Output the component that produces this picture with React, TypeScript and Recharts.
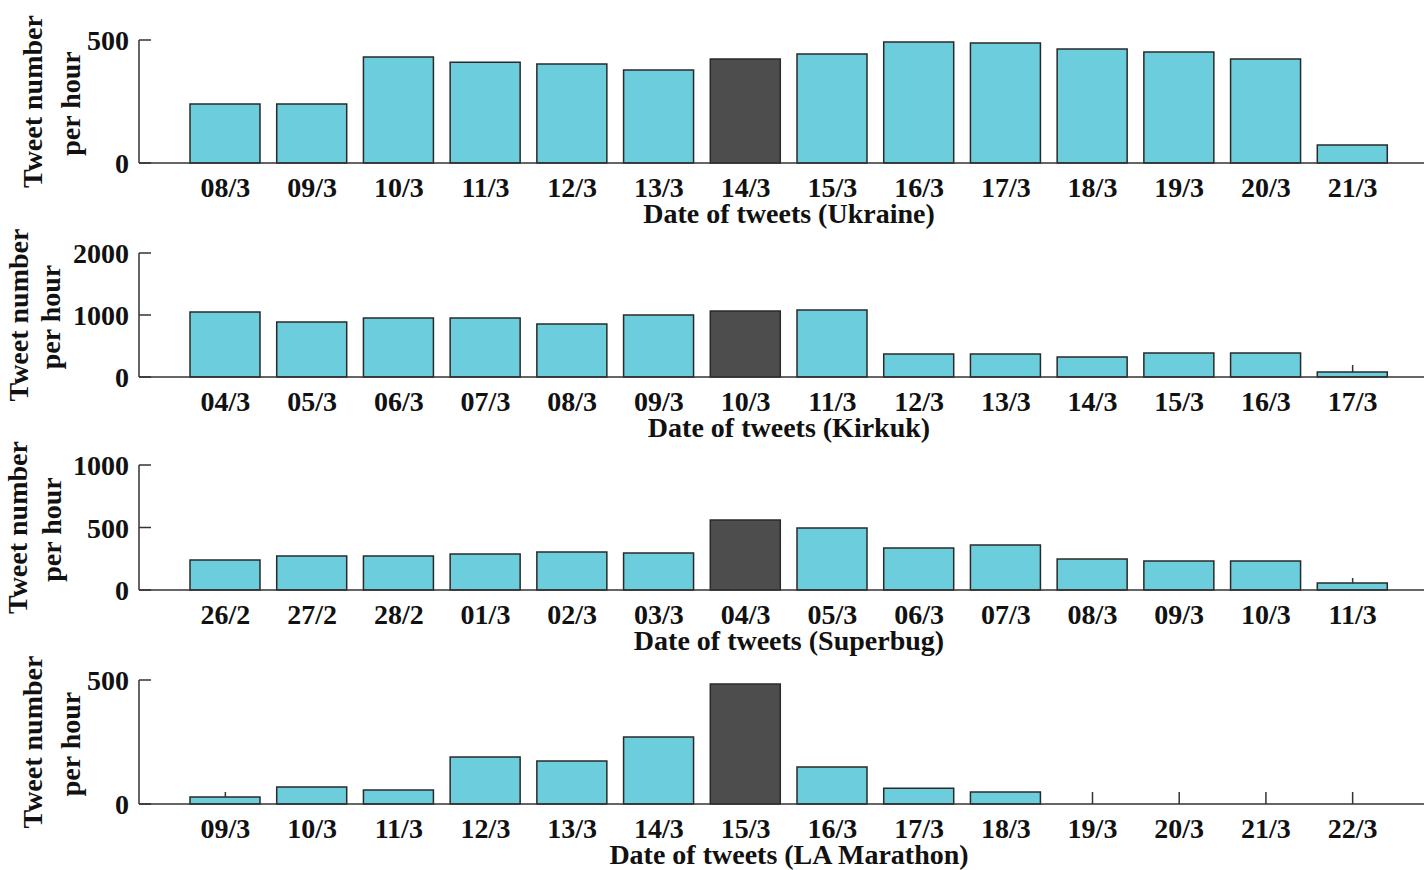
import React from 'react'
import { BarChart, Bar, XAxis, YAxis, Cell } from 'recharts'

// dates per event
const UKRAINE_DATES = ['08/3', '09/3', '10/3', '11/3', '12/3', '13/3', '14/3', '15/3', '16/3', '17/3', '18/3', '19/3', '20/3', '21/3']
const KIRKUK_DATES = ['04/3', '05/3', '06/3', '07/3', '08/3', '09/3', '10/3', '11/3', '12/3', '13/3', '14/3', '15/3', '16/3', '17/3']
const SUPERBUG_DATES = ['26/2', '27/2', '28/2', '01/3', '02/3', '03/3', '04/3', '05/3', '06/3', '07/3', '08/3', '09/3', '10/3', '11/3']
const MARATHON_DATES = ['09/3', '10/3', '11/3', '12/3', '13/3', '14/3', '15/3', '16/3', '17/3', '18/3', '19/3', '20/3', '21/3', '22/3']

// tweets per hour
const UKRAINE_VALUES = [240, 240, 431, 410, 402, 378, 423, 443, 492, 488, 463, 451, 423, 73]
const KIRKUK_VALUES = [1048, 887, 952, 952, 855, 1000, 1065, 1081, 371, 371, 323, 387, 387, 80]
const SUPERBUG_VALUES = [240, 272, 272, 288, 304, 296, 560, 496, 336, 360, 248, 232, 232, 56]
const MARATHON_VALUES = [28, 69, 56, 190, 173, 270, 484, 149, 64, 48, 0, 0, 0, 0]

// day of the event (dark bar)
const UKRAINE_EVENT = '14/3'
const KIRKUK_EVENT = '10/3'
const SUPERBUG_EVENT = '04/3'
const MARATHON_EVENT = '15/3'

const UKRAINE_TICKS = [0, 500]
const KIRKUK_TICKS = [0, 1000, 2000]
const SUPERBUG_TICKS = [0, 500, 1000]
const MARATHON_TICKS = [0, 500]

const FONT = '"Liberation Serif", "Times New Roman", serif'
const INK = '#111'
const LINE = '#333'
const BAR = '#6ccddc'
const EVENT_BAR = '#4d4d4d'
const TICK_LEN = 12

const PANELS = [
  { title: 'Date of tweets (Ukraine)', dates: UKRAINE_DATES, values: UKRAINE_VALUES, event: UKRAINE_EVENT, ticks: UKRAINE_TICKS, top: 40, bottom: 163, labelX: [42, 80] },
  { title: 'Date of tweets (Kirkuk)', dates: KIRKUK_DATES, values: KIRKUK_VALUES, event: KIRKUK_EVENT, ticks: KIRKUK_TICKS, top: 253, bottom: 377, labelX: [28, 60] },
  { title: 'Date of tweets (Superbug)', dates: SUPERBUG_DATES, values: SUPERBUG_VALUES, event: SUPERBUG_EVENT, ticks: SUPERBUG_TICKS, top: 465, bottom: 590, labelX: [27, 61] },
  { title: 'Date of tweets (LA Marathon)', dates: MARATHON_DATES, values: MARATHON_VALUES, event: MARATHON_EVENT, ticks: MARATHON_TICKS, top: 680, bottom: 804, labelX: [42, 80] },
]

// inward ticks are hidden behind the bars, so only the part outside a bar is drawn
const barPx = (props: any) => {
  const v = props.values[props.index] ?? 0
  return (v / props.max) * props.plotH
}

const BottomTick = (props: any) => {
  const { x, y, payload } = props
  const h = barPx(props)
  return (
    <g>
      {h < TICK_LEN && <line x1={x} x2={x} y1={y - h} y2={y - TICK_LEN} stroke={LINE} strokeWidth={1.5} />}
      <text x={x} y={y + 34} textAnchor="middle" fontFamily={FONT} fontWeight="bold" fontSize={28} fill={INK}>
        {payload.value}
      </text>
    </g>
  )
}

const TopTick = (props: any) => {
  const { x, y } = props
  const free = props.plotH - barPx(props)
  const len = Math.min(TICK_LEN, free)
  if (len <= 0) return <g />
  return <line x1={x} x2={x} y1={y} y2={y + len} stroke={LINE} strokeWidth={1.5} />
}

const LeftTick = (props: any) => {
  const { x, y, payload } = props
  return (
    <g>
      <line x1={x} x2={x + TICK_LEN} y1={y} y2={y} stroke={LINE} strokeWidth={1.5} />
      <text x={x - 10} y={y + 10} textAnchor="end" fontFamily={FONT} fontWeight="bold" fontSize={28} fill={INK}>
        {payload.value}
      </text>
    </g>
  )
}

function Panel({ title, dates, values, event, ticks, top, bottom, labelX }: any) {
  const data = dates.map((d: string, i: number) => ({ date: d, value: values[i] }))
  const marginTop = 30
  const plotH = bottom - top
  const max = ticks[ticks.length - 1]
  const height = marginTop + plotH + 75
  return (
    <div style={{ position: 'absolute', left: 0, top: top - marginTop }}>
      <BarChart
        width={1450}
        height={height}
        data={data}
        margin={{ top: marginTop, right: 11, bottom: 0, left: 0 }}
        barSize={70}
      >
        <XAxis
          dataKey="date"
          interval={0}
          tickSize={0}
          tickMargin={0}
          tick={<BottomTick values={values} max={max} plotH={plotH} />}
          axisLine={{ stroke: LINE, strokeWidth: 1.5 }}
          padding={{ left: 43, right: 43 }}
          height={75}
          label={{
            content: (p: any) => {
              const vb = p.viewBox
              return (
                <text x={vb.x + vb.width / 2} y={vb.y + 60} textAnchor="middle" fontFamily={FONT} fontWeight="bold" fontSize={28} fill={INK}>
                  {title}
                </text>
              )
            },
          }}
        />
        <XAxis
          xAxisId="top"
          dataKey="date"
          orientation="top"
          interval={0}
          tickSize={0}
          tickMargin={0}
          tick={<TopTick values={values} max={max} plotH={plotH} />}
          axisLine={{ stroke: LINE, strokeWidth: 1.5 }}
          padding={{ left: 43, right: 43 }}
          height={0}
        />
        <YAxis
          domain={[ticks[0], max]}
          ticks={ticks}
          interval={0}
          width={139}
          tickSize={0}
          tickMargin={0}
          tick={<LeftTick />}
          axisLine={{ stroke: LINE, strokeWidth: 1.5 }}
          label={{
            content: (p: any) => {
              const vb = p.viewBox
              const cy = vb.y + vb.height / 2
              return (
                <g fontFamily={FONT} fontWeight="bold" fontSize={28} fill={INK}>
                  <text x={labelX[0]} y={cy} transform={`rotate(-90 ${labelX[0]} ${cy})`} textAnchor="middle">
                    Tweet number
                  </text>
                  <text x={labelX[1]} y={cy + 2} transform={`rotate(-90 ${labelX[1]} ${cy + 2})`} textAnchor="middle">
                    per hour
                  </text>
                </g>
              )
            },
          }}
        />
        <Bar dataKey="value" stroke="#2a2a2a" strokeWidth={1.5} isAnimationActive={false}>
          {data.map((d: any) => (
            <Cell key={d.date} fill={d.date === event ? EVENT_BAR : BAR} />
          ))}
        </Bar>
      </BarChart>
    </div>
  )
}

export default function App() {
  return (
    <div style={{ position: 'absolute', left: 0, top: 0, width: 1424, height: 870, overflow: 'hidden', background: '#fff' }}>
      {PANELS.map((p) => (
        <Panel key={p.title} {...p} />
      ))}
    </div>
  )
}
